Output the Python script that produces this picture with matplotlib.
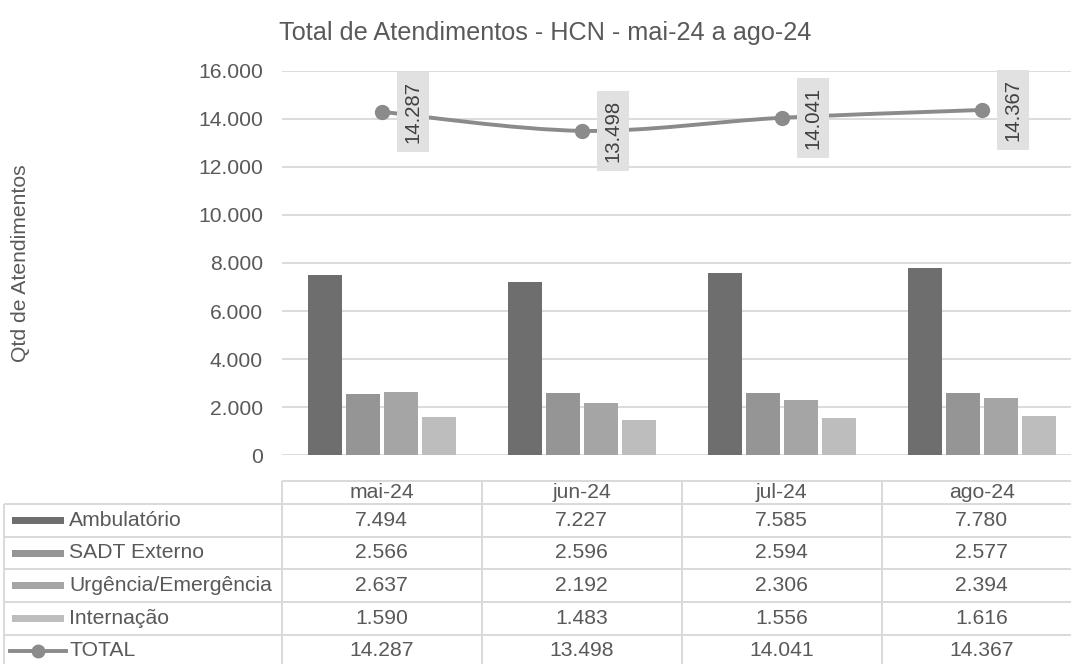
import matplotlib
matplotlib.use('Agg')
import matplotlib.pyplot as plt
import matplotlib.transforms as mtransforms
from matplotlib.path import Path
from matplotlib.patches import PathPatch, Rectangle
from matplotlib.lines import Line2D

# ---------------- data ----------------
months = ['mai-24', 'jun-24', 'jul-24', 'ago-24']
series_names = ['Ambulatório', 'SADT Externo', 'Urgência/Emergência', 'Internação']
ambulatorio = [7494, 7227, 7585, 7780]
sadt_externo = [2566, 2596, 2594, 2577]
urgencia = [2637, 2192, 2306, 2394]
internacao = [1590, 1483, 1556, 1616]
total = [14287, 13498, 14041, 14367]
total_name = 'TOTAL'
yticks = [0, 2000, 4000, 6000, 8000, 10000, 12000, 14000, 16000]
title = 'Total de Atendimentos - HCN - mai-24 a ago-24'
ylabel = 'Qtd de Atendimentos'

bar_series = [ambulatorio, sadt_externo, urgencia, internacao]
bar_colors = ['#6e6e6e', '#959595', '#a5a5a5', '#bdbdbd']
line_color = '#8b8b8b'
text_color = '#595959'
grid_color = '#d9d9d9'


def fmt(v):
    return f"{v:,}".replace(',', '.')


plt.rcParams['font.family'] = ['Liberation Sans', 'DejaVu Sans']

W, H = 1071, 664
DPI = 100
fig = plt.figure(figsize=(W / DPI, H / DPI), dpi=DPI)
fig.patch.set_facecolor('white')

# layout in pixels
L, R, T, B = 281.7, 1081.7, 70.7, 455.3
FS = 15.2

ax = fig.add_axes([L / W, 1 - B / H, (R - L) / W, (B - T) / H])
ax.patch.set_visible(False)
ax.set_xlim(-0.5, len(months) - 0.5)
ax.set_ylim(yticks[0], yticks[-1])
ax.set_yticks(yticks)
ax.set_yticklabels([fmt(v) for v in yticks])
ax.set_xticks([])
ax.tick_params(axis='y', length=0, pad=13.5, labelsize=FS, labelcolor=text_color)
for s in ax.spines.values():
    s.set_visible(False)
ax.yaxis.grid(True, color=grid_color, linewidth=1.3)
ax.set_axisbelow(True)

# bars
slot = 0.19
bw = 0.17
n = len(bar_series)
for k, (vals, col) in enumerate(zip(bar_series, bar_colors)):
    xs = [i + (k - (n - 1) / 2) * slot for i in range(len(months))]
    ax.bar(xs, vals, width=bw, color=col, edgecolor='none', zorder=2)

# smoothed total line (Bezier through the data points)
xs = list(range(len(months)))
pts = list(zip(xs, total))
verts = [pts[0]]
codes = [Path.MOVETO]
for i in range(len(pts) - 1):
    p0 = pts[i - 1] if i > 0 else pts[i]
    p1 = pts[i]
    p2 = pts[i + 1]
    p3 = pts[i + 2] if i + 2 < len(pts) else pts[i + 1]
    c1 = (p1[0] + (p2[0] - p0[0]) / 6, p1[1] + (p2[1] - p0[1]) / 6)
    c2 = (p2[0] - (p3[0] - p1[0]) / 6, p2[1] - (p3[1] - p1[1]) / 6)
    verts += [c1, c2, p2]
    codes += [Path.CURVE4, Path.CURVE4, Path.CURVE4]
ax.add_patch(PathPatch(Path(verts, codes), facecolor='none', edgecolor=line_color,
                       linewidth=2.8, capstyle='round', zorder=3))
ax.plot(xs, total, linestyle='none', marker='o', markersize=10, color=line_color, zorder=4)

# data labels (rotated, in grey boxes), placed right of each point
fig.canvas.draw()
for x, v in zip(xs, total):
    px, py = ax.transData.transform((x, v))
    cx = px + 31
    rect = Rectangle((cx - 16, py - 40), 32, 80, transform=mtransforms.IdentityTransform(),
                     facecolor='#e1e1e1', edgecolor='none', zorder=5)
    fig.add_artist(rect)
    fig.text(cx / W, py / H, fmt(v), rotation=90, ha='center', va='center',
             fontsize=14.6, color='#404040', zorder=6)

# ---------------- data table ----------------
ax_t = fig.add_axes([0, 0, 1, 1], zorder=-1)
ax_t.set_xlim(0, W)
ax_t.set_ylim(H, 0)
ax_t.axis('off')
bt = mtransforms.blended_transform_factory(ax.transData, ax_t.transData)

header_top = 480.5
row_edges = [504.0, 536.7, 569.3, 602.0, 634.7, 667.3]
left_x = 4.0
lw_tab = 1.4
tab_kw = dict(color=grid_color, linewidth=lw_tab, solid_capstyle='butt', clip_on=False)

# horizontal lines
ax_t.add_line(Line2D([-0.5, len(months) - 0.5], [header_top, header_top], transform=bt, **tab_kw))
for y in row_edges:
    ax_t.add_line(Line2D([left_x, L], [y, y], **tab_kw))
    ax_t.add_line(Line2D([-0.5, len(months) - 0.5], [y, y], transform=bt, **tab_kw))
# vertical lines
ax_t.add_line(Line2D([left_x, left_x], [row_edges[0], row_edges[-1]], **tab_kw))
for i in range(len(months) + 1):
    ax_t.add_line(Line2D([i - 0.5, i - 0.5], [header_top, row_edges[-1]], transform=bt, **tab_kw))

# header texts
for i, m in enumerate(months):
    ax_t.text(i, (header_top + row_edges[0]) / 2, m, transform=bt, ha='center', va='center',
              fontsize=FS, color=text_color)

rows = list(zip(series_names, bar_series)) + [(total_name, total)]
for r, (name, vals) in enumerate(rows):
    yc = (row_edges[r] + row_edges[r + 1]) / 2
    ax_t.text(69, yc, name, ha='left', va='center', fontsize=FS, color=text_color)
    for i, v in enumerate(vals):
        ax_t.text(i, yc, fmt(v), transform=bt, ha='center', va='center',
                  fontsize=FS, color=text_color)
    if r < len(bar_series):
        ax_t.add_patch(Rectangle((11.7, yc - 3.5), 52.3, 7, facecolor=bar_colors[r], edgecolor='none'))
    else:
        ax_t.add_line(Line2D([10, 65.7], [yc, yc], color=line_color, linewidth=2.8))
        ax_t.add_line(Line2D([37.8], [yc], marker='o', markersize=9, color=line_color))

# title and axis label
fig.text(545 / W, 1 - 33 / H, title, ha='center', va='center', fontsize=18.2, color=text_color)
fig.text(21 / W, 1 - 263 / H, ylabel, rotation=90, ha='center', va='center',
         fontsize=FS, color=text_color)

fig.savefig('out.png', dpi=DPI, facecolor='white')
